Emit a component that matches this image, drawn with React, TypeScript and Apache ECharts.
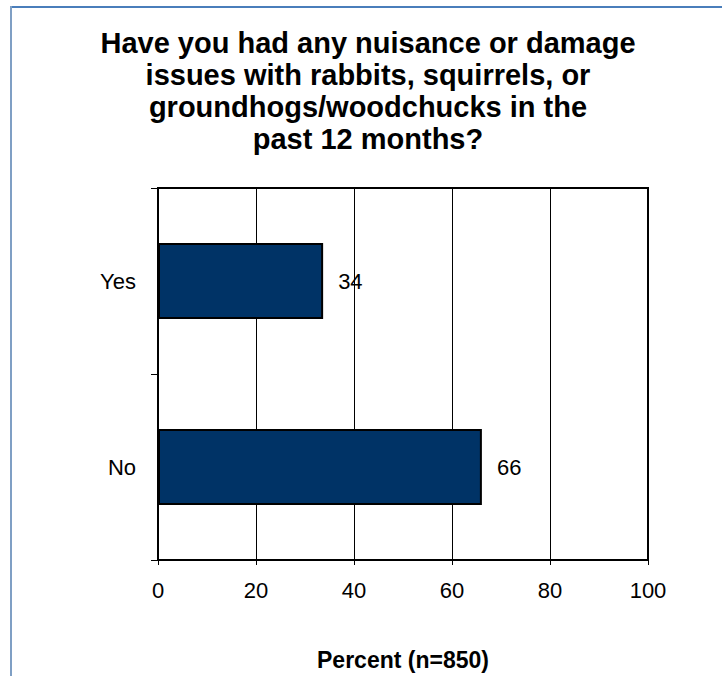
import React, { useEffect, useRef } from "react";
import * as echarts from "echarts";

const categories = ["Yes", "No"];
const percentValues = [33.7, 66.1];
const xTicks = { min: 0, max: 100, interval: 20 };
const titleText =
  "Have you had any nuisance or damage\nissues with rabbits, squirrels, or\ngroundhogs/woodchucks in the\npast 12 months?";
const axisTitle = "Percent (n=850)";

const FONT = "'Liberation Sans', Arial, Helvetica, sans-serif";

export default function App() {
  const ref = useRef<HTMLDivElement>(null);
  useEffect(() => {
    if (!ref.current) return;
    const chart = echarts.init(ref.current, undefined, { renderer: "svg" });
    chart.setOption({
      animation: false,
      backgroundColor: "#ffffff",
      textStyle: { fontFamily: FONT },
      graphic: [
        {
          type: "line",
          shape: { x1: 10, y1: 7, x2: 722, y2: 7 },
          style: { stroke: "#4a7ebb", lineWidth: 2 },
          z: 10,
        },
        {
          type: "line",
          shape: { x1: 11, y1: 6, x2: 11, y2: 676 },
          style: { stroke: "#7f9fc4", lineWidth: 2 },
          z: 10,
        },
        {
          type: "text",
          x: 368,
          y: 27,
          style: {
            text: titleText,
            font: `bold 29px ${FONT}`,
            fill: "#000000",
            textAlign: "center",
            textVerticalAlign: "top",
            lineHeight: 32,
          },
        },
      ],
      grid: {
        left: 158,
        top: 188,
        right: 74,
        bottom: 109,
        show: true,
        borderColor: "#000000",
        borderWidth: 2,
        backgroundColor: "transparent",
        containLabel: false,
      },
      xAxis: {
        type: "value",
        min: xTicks.min,
        max: xTicks.max,
        interval: xTicks.interval,
        name: axisTitle,
        nameLocation: "middle",
        nameGap: 88,
        nameTextStyle: {
          fontFamily: FONT,
          fontSize: 23,
          fontWeight: "bold",
          color: "#000000",
        },
        axisLine: { show: true, lineStyle: { color: "#000000", width: 2 } },
        axisTick: { show: true, length: 5, lineStyle: { color: "#000000", width: 1 } },
        axisLabel: { fontFamily: FONT, fontSize: 22, color: "#000000", margin: 19 },
        splitLine: { show: true, lineStyle: { color: "#000000", width: 1 } },
      },
      yAxis: {
        type: "category",
        data: categories,
        inverse: true,
        axisLine: { show: true, lineStyle: { color: "#000000", width: 2 } },
        axisTick: { show: true, length: 7, lineStyle: { color: "#000000", width: 1 } },
        axisLabel: { fontFamily: FONT, fontSize: 22, color: "#000000", margin: 22 },
        splitLine: { show: false },
      },
      series: [
        {
          type: "bar",
          data: percentValues,
          barWidth: 76,
          itemStyle: { color: "#003366", borderColor: "#000000", borderWidth: 2 },
          label: {
            show: true,
            position: "right",
            distance: 15,
            fontFamily: FONT,
            fontSize: 22,
            color: "#000000",
            formatter: (p: any) => String(Math.round(p.value)),
          },
        },
      ],
    });
    return () => chart.dispose();
  }, []);
  return (
    <div
      ref={ref}
      style={{ position: "fixed", left: 0, top: 0, width: 722, height: 676 }}
    />
  );
}
